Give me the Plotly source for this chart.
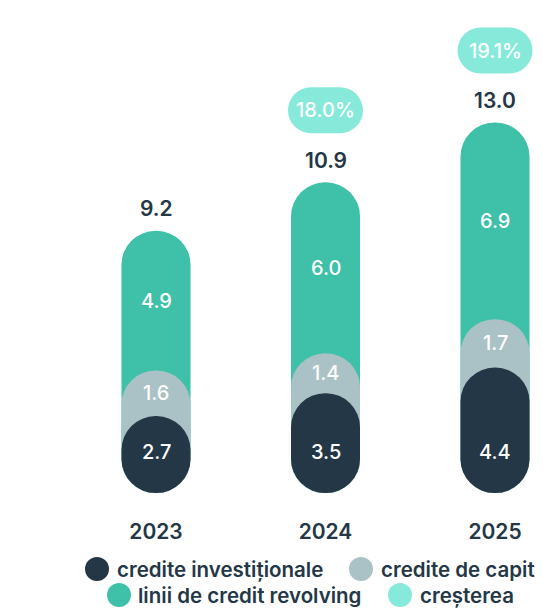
import plotly.graph_objects as go

# ---- data ----
years = ["2023", "2024", "2025"]
credite_investitionale = [2.7, 3.5, 4.4]
credite_capital = [1.6, 1.4, 1.7]
linii_revolving = [4.9, 6.0, 6.9]
totals = [9.2, 10.9, 13.0]
crestere = [None, 18.0, 19.1]
legend_names = ["credite investiționale", "credite de capit",
                "linii de credit revolving", "creșterea"]

# ---- style ----
DARK = "#243746"
GREY = "#aac2c5"
TEAL = "#3fc0a9"
LIGHT = "#87e9da"
FONT = "Inter"

W, H = 543, 609
MB = 114                      # bottom margin (px)
PLOT_H = H - MB
S = 28.5                      # px per unit on y
Y0 = -2 / S
Y1 = Y0 + PLOT_H / S
PX_X = 169.5                  # px per category step
X0 = -156 / PX_X
X1 = X0 + W / PX_X

def u(px):                    # px -> y data units
    return px / S

def ux(px):                   # px -> x data units
    return px / PX_X

BAR_PX = 69
bar_w = ux(BAR_PX)

xs = list(range(len(years)))
cum1 = credite_investitionale
cum2 = [a + b for a, b in zip(cum1, credite_capital)]
cum3 = [a + b for a, b in zip(cum2, linii_revolving)]
zero = [0] * len(xs)

fig = go.Figure()

def add_bar(top, color):
    # explicit base -> plotly rounds both ends (pill shape)
    fig.add_trace(go.Bar(
        x=xs, y=top, base=zero, width=bar_w,
        marker=dict(color=color, cornerradius="50%", line=dict(width=0)),
        showlegend=False, hoverinfo="skip"))

add_bar(cum3, TEAL)   # linii de credit revolving (stack top)
add_bar(cum2, GREY)   # credite de capital
add_bar(cum1, DARK)   # credite investitionale

# growth pills
PILL_W, PILL_H = 75, 46
PILL_OFF = 72
gx = [x for x, g in zip(xs, crestere) if g is not None]
gc = [t + u(PILL_OFF) for t, g in zip(totals, crestere) if g is not None]
fig.add_trace(go.Bar(
    x=gx, y=[u(PILL_H)] * len(gx), base=[c - u(PILL_H / 2) for c in gc],
    width=ux(PILL_W),
    marker=dict(color=LIGHT, cornerradius=PILL_H // 2, line=dict(width=0)),
    showlegend=False, hoverinfo="skip"))

VAL_FONT = dict(family=FONT, size=20, color="white", weight=500)
ann = []
for i, x in enumerate(xs):
    ann.append(dict(x=x, y=0, yshift=41, text=f"{credite_investitionale[i]:.1f}",
                    showarrow=False, font=VAL_FONT))
    ann.append(dict(x=x, y=(cum1[i] + cum2[i]) / 2, text=f"{credite_capital[i]:.1f}",
                    showarrow=False, font=VAL_FONT))
    ann.append(dict(x=x, y=(cum2[i] + cum3[i]) / 2, text=f"{linii_revolving[i]:.1f}",
                    showarrow=False, font=VAL_FONT))
    ann.append(dict(x=x, y=totals[i], yshift=22, text=f"{totals[i]:.1f}",
                    showarrow=False,
                    font=dict(family=FONT, size=21, color=DARK, weight=600)))
    if crestere[i] is not None:
        ann.append(dict(x=x, y=totals[i] + u(PILL_OFF), text=f"{crestere[i]:.1f}%",
                        showarrow=False, font=VAL_FONT))

# manual legend (pixel positions -> paper coords)
def px_x(p):
    return p / W

def px_y(p):
    return (PLOT_H - p) / PLOT_H

legend_items = [
    (legend_names[0], DARK, 97, 569, 117),
    (legend_names[1], GREY, 361, 569, 381),
    (legend_names[2], TEAL, 119, 595, 138),
    (legend_names[3], LIGHT, 400, 595, 420),
]
shapes = []
for name, col, cx, cy, tx in legend_items:
    shapes.append(dict(type="circle", xref="paper", yref="paper",
                       x0=px_x(cx - 12), x1=px_x(cx + 12),
                       y0=px_y(cy + 12), y1=px_y(cy - 12),
                       fillcolor=col, line=dict(width=0)))
    ann.append(dict(xref="paper", yref="paper", x=px_x(tx - 2), y=px_y(cy),
                    xanchor="left", yanchor="middle", text=name, showarrow=False,
                    font=dict(family=FONT, size=20.5, color=DARK, weight=600)))

fig.update_layout(
    width=W, height=H,
    margin=dict(l=0, r=0, t=0, b=MB),
    barmode="overlay",
    plot_bgcolor="white", paper_bgcolor="white",
    showlegend=False,
    annotations=ann, shapes=shapes,
    xaxis=dict(range=[X0, X1], tickvals=xs, ticktext=years, showgrid=False,
               zeroline=False, showline=False, ticks="", ticklabelstandoff=22,
               tickfont=dict(family=FONT, size=21, color=DARK, weight=600),
               fixedrange=True),
    yaxis=dict(range=[Y0, Y1], visible=False, fixedrange=True),
)

fig.write_html("out.html", config={"displayModeBar": False},
               post_script="document.body.style.margin='0';"
                           "document.body.style.overflow='hidden';")
